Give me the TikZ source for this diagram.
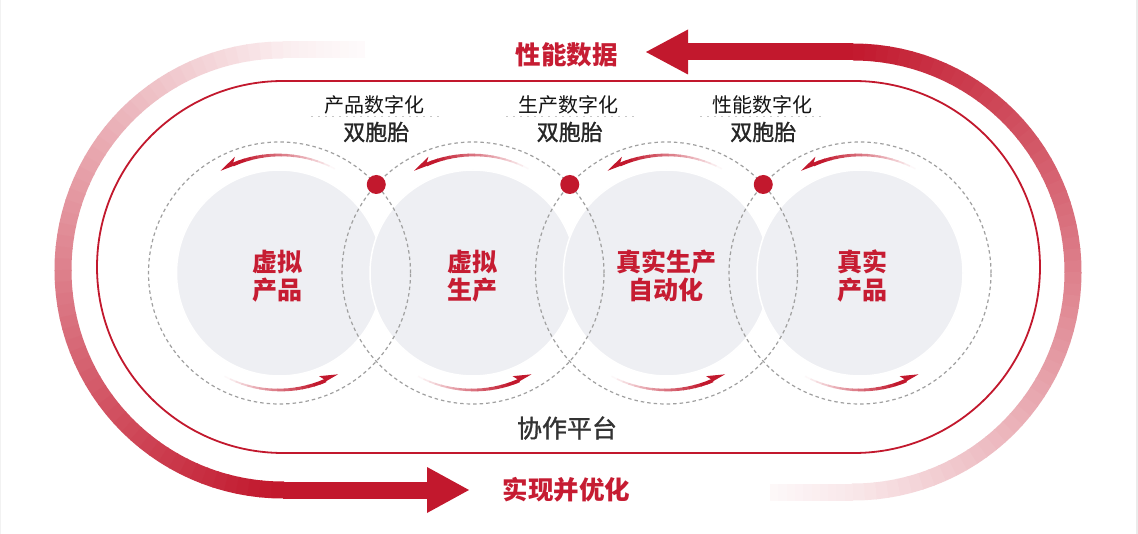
\documentclass[tikz,border=0pt]{standalone}
\usepackage{fontspec}
\newfontfamily\cjk{Noto Sans CJK SC}
\newfontfamily\cjkm{Noto Sans CJK SC}[FakeBold=1.2]
\definecolor{mred}{RGB}{194,24,45}
\definecolor{tred}{RGB}{198,28,50}
\definecolor{cfill}{RGB}{238,239,243}
\definecolor{dgray}{RGB}{51,51,51}
\definecolor{dash}{RGB}{160,160,160}
\tikzset{
  graycirc/.style={circle, fill=cfill, draw=white, line width=1.5, minimum size=206, inner sep=0},
  dashcirc/.style={circle, draw=dash, line width=1.2, dash pattern=on 3.5 off 3, minimum size=262, inner sep=0},
  reddot/.style={circle, fill=mred, minimum size=19, inner sep=0},
  incirc/.style={font=\cjk\bfseries\fontsize{25}{28}\selectfont, text=tred, align=center, inner sep=0},
  bigred/.style={font=\cjk\bfseries\fontsize{25.5}{28}\selectfont, text=tred, inner sep=0},
  platf/.style={font=\cjkm\fontsize{25}{28}\selectfont, text=dgray, inner sep=0},
  digi/.style={font=\cjk\fontsize{20}{22}\selectfont, text=black!92, inner sep=0},
  twin/.style={font=\cjkm\fontsize{22}{24}\selectfont, text=black!85, inner sep=0},
  fadedots/.style={draw=black!22, line width=1.2, dash pattern=on 1.5 off 5.5},
}
\begin{document}
\begin{tikzpicture}[x=1pt,y=-1pt]
\useasboundingbox (0,0) rectangle (1138,534);
\fill[white] (0,0) rectangle (1138,534);
\fill[black!8] (1135.5,0) rectangle (1138,534);
\fill[black!5] (0,0) rectangle (0.8,534);

% ---------- left big arrow (fades in from the top) ----------
\foreach \i in {0,...,9} {
  \pgfmathsetmacro\xa{365-8.2*\i}
  \pgfmathsetmacro\xb{\xa-8.7}
  \pgfmathsetmacro\p{2+0.6*\i}
  \draw[line width=17, mred!\p!white] (\xa,50) -- (\xb,50);
}
\foreach \i in {0,...,59} {
  \pgfmathsetmacro\a{90+3*\i}
  \pgfmathsetmacro\b{\a+3.3}
  \pgfmathsetmacro\p{min(100,8+0.52*(\a+1.5-90))}
  \draw[line width=17, mred!\p!white] ({283+220*cos(\a)},{270-220*sin(\a)}) arc[start angle=-\a, end angle=-\b, radius=220];
}
\coordinate (lstart) at (283,490);
\coordinate (ltip) at (469,490);
\draw[line width=17, mred] (lstart) -- (430,490);
\fill[mred] (427,467) -- (ltip) -- (427,513) -- cycle;

% ---------- right big arrow (fades out at the bottom) ----------
\coordinate (rtip) at (646,52);
\coordinate (rarc) at (853,52);
\fill[mred] (rtip) -- (688,29.5) -- (688,74.5) -- cycle;
\draw[line width=17, mred] (685,52) -- (rarc);
\foreach \i in {0,...,59} {
  \pgfmathsetmacro\a{90-3*\i}
  \pgfmathsetmacro\b{\a-3.3}
  \pgfmathsetmacro\p{max(0,100-0.5*(90-(\a-1.5)))}
  \draw[line width=17, mred!\p!white] ({853+220*cos(\a)},{272-220*sin(\a)}) arc[start angle=-\a, end angle=-\b, radius=220];
}
\foreach \i in {0,...,9} {
  \pgfmathsetmacro\xa{853-8.3*\i}
  \pgfmathsetmacro\xb{\xa-8.8}
  \pgfmathsetmacro\p{10-0.75*\i}
  \draw[line width=17, mred!\p!white] (\xa,492) -- (\xb,492);
}

% ---------- inner stadium (platform) ----------
\draw[mred, line width=1.8] (283,81) -- (854,81) arc[start angle=-90, end angle=90, radius=186]
  -- (283,453) arc[start angle=90, end angle=270, radius=186] -- cycle;

% ---------- circles ----------
\node[graycirc] (g1) at (279.5,273) {};
\node[graycirc] (g2) at (473,273) {};
\node[graycirc] (g3) at (666.5,273) {};
\node[graycirc] (g4) at (860,273) {};
\node[dashcirc] (d1) at (279.5,273) {};
\node[dashcirc] (d2) at (473,273) {};
\node[dashcirc] (d3) at (666.5,273) {};
\node[dashcirc] (d4) at (860,273) {};

% ---------- small circulating arrows ----------
\foreach \cx in {279.5,473,666.5,860} {
  \foreach \i in {0,...,16} {
    \pgfmathsetmacro\a{62+3*\i}
    \pgfmathsetmacro\b{\a+3.3}
    \pgfmathsetmacro\p{min(100,3+6.5*\i)}
    \pgfmathsetmacro\w{1.4+0.14*\i}
    \draw[line width=\w, mred!\p!white] ({\cx+118*cos(\a)},{273-118*sin(\a)}) arc[start angle=-\a, end angle=-\b, radius=118];
  }
  \fill[mred] ({\cx+118*cos(120)},{273-118*sin(120)}) -- ({\cx+124.5*cos(111)},{273-124.5*sin(111)})
    -- ({\cx+119*cos(113)},{273-119*sin(113)}) -- ({\cx+116.5*cos(111)},{273-116.5*sin(111)}) -- cycle;
  \foreach \i in {0,...,16} {
    \pgfmathsetmacro\a{242+3*\i}
    \pgfmathsetmacro\b{\a+3.3}
    \pgfmathsetmacro\p{min(100,3+6.5*\i)}
    \pgfmathsetmacro\w{1.4+0.14*\i}
    \draw[line width=\w, mred!\p!white] ({\cx+117*cos(\a)},{273-117*sin(\a)}) arc[start angle=-\a, end angle=-\b, radius=117];
  }
  \fill[mred] ({\cx+117*cos(300)},{273-117*sin(300)}) -- ({\cx+110.5*cos(291)},{273-110.5*sin(291)})
    -- ({\cx+116*cos(293)},{273-116*sin(293)}) -- ({\cx+118.5*cos(291)},{273-118.5*sin(291)}) -- cycle;
}

% ---------- twin dots ----------
\node[reddot] (p1) at (376.25,184.5) {};
\node[reddot] (p2) at (569.75,184.5) {};
\node[reddot] (p3) at (763.25,184.5) {};

% ---------- circle texts ----------
\node[incirc] (t1) at (277,276) {虚拟\\产品};
\node[incirc] (t2) at (472,276) {虚拟\\生产};
\node[incirc] (t3) at (666,276) {真实生产\\自动化};
\node[incirc] (t4) at (862,276) {真实\\产品};

% ---------- twin labels ----------
\draw[fadedots] (311,116.5) -- (440,116.5);
\draw[fadedots] (506,116.5) -- (634,116.5);
\draw[fadedots] (700,116.5) -- (826,116.5);
\node[digi] (a1) at (374.5,105) {产品数字化};
\node[digi] (a2) at (568,105) {生产数字化};
\node[digi] (a3) at (762,105) {性能数字化};
\node[twin] (b1) at (376.25,132) {双胞胎};
\node[twin] (b2) at (569.75,132) {双胞胎};
\node[twin] (b3) at (763.25,132) {双胞胎};

% ---------- titles ----------
\node[bigred] (perf) at (566.5,55) {性能数据};
\node[platf] (plat) at (567,428) {协作平台};
\node[bigred] (opt) at (566.5,490) {实现并优化};
\end{tikzpicture}
\end{document}
